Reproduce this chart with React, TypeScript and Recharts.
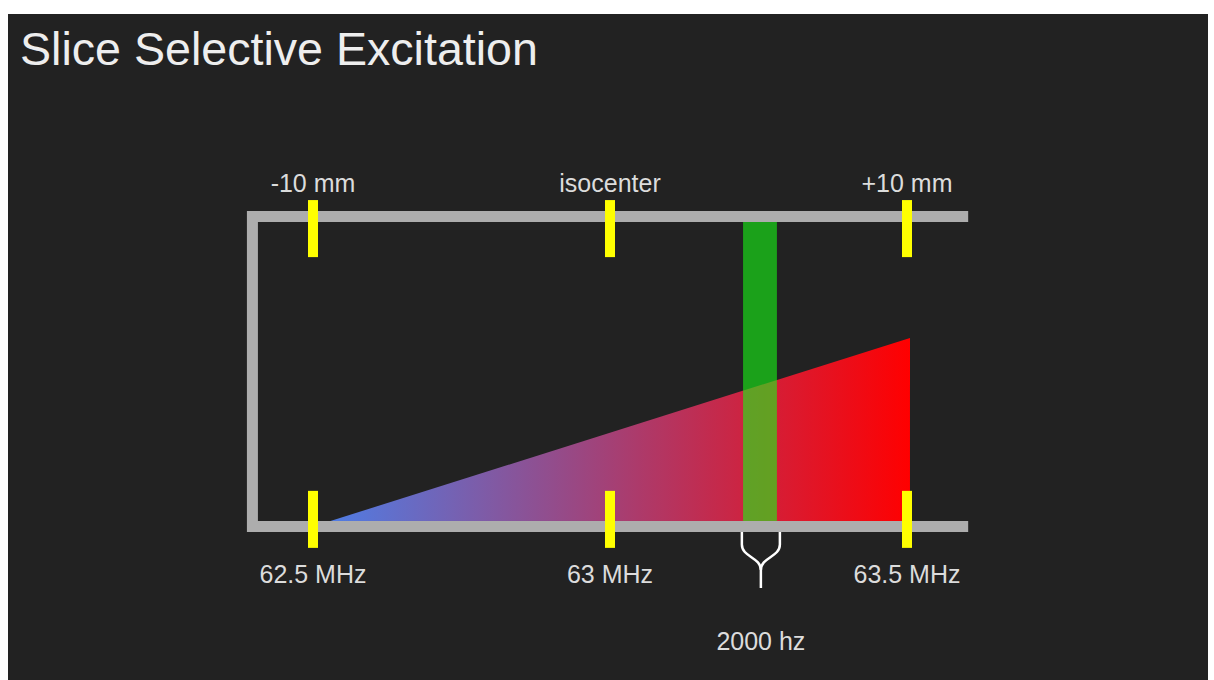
import { Area, ComposedChart, Line, ReferenceDot, XAxis, YAxis } from "recharts";

// frequency axis (bottom) and position axis (top)
const freqTicks = [62.5, 63, 63.5];
const freqLabels = ["62.5 MHz", "63 MHz", "63.5 MHz"];
const posTicks = [-10, 0, 10];
const posLabels = ["-10 mm", "isocenter", "+10 mm"];

// gradient field ramp (triangle), slice band, bracket outline
const gradientRamp = [
  { x: 62.5, y: 0 },
  { x: 63.505, y: 0.608 },
];
const sliceBand = [
  { x: 63.224, y: 1 },
  { x: 63.281, y: 1 },
];
const bracket = [
  { x: 63.603, y: 1 },
  { x: 62.398, y: 1 },
  { x: 62.398, y: 0 },
  { x: 63.603, y: 0 },
];

// yellow tick extents (top and bottom)
const tickTop = [0.869, 1.053];
const tickBottom = [-0.069, 0.115];

// bandwidth brace under the slice
const forkLeft = [
  { x: 63.222, y: -0.018 },
  { x: 63.222, y: -0.058 },
  { x: 63.254, y: -0.14 },
  { x: 63.254, y: -0.198 },
];
const forkRight = [
  { x: 63.286, y: -0.018 },
  { x: 63.286, y: -0.058 },
  { x: 63.254, y: -0.14 },
];
const bandwidthLabel = { x: 63.254, y: -0.37, text: "2000 hz" };

const FONT = "'Liberation Sans', Arial, Helvetica, sans-serif";

const tickSegments = freqTicks.flatMap((f) => [
  [
    { x: f, y: tickTop[0] },
    { x: f, y: tickTop[1] },
  ],
  [
    { x: f, y: tickBottom[0] },
    { x: f, y: tickBottom[1] },
  ],
]);

// anchor points so the top (mm) axis has a series bound to it
const posAnchors = posTicks.map((t) => ({ x: t, y: tickTop[1] }));

const makeTick =
  (labels: string[], values: number[], dy: number) =>
  ({ x, y, payload }: any) => {
    const i = values.indexOf(payload.value);
    return (
      <text
        x={x}
        y={y + dy}
        textAnchor="middle"
        fill="#dcdcdc"
        fontSize={25}
        fontFamily={FONT}
      >
        {i >= 0 ? labels[i] : payload.value}
      </text>
    );
  };

export default function App() {
  return (
    <div
      style={{
        position: "absolute",
        left: 8,
        top: 14,
        width: 1200,
        height: 666,
        background: "#222222",
        overflow: "hidden",
      }}
    >
      <div
        style={{
          position: "absolute",
          left: 12,
          top: 12,
          fontFamily: FONT,
          fontSize: 46.6,
          lineHeight: 1,
          color: "#eeeeee",
          whiteSpace: "nowrap",
        }}
      >
        Slice Selective Excitation
      </div>
      <ComposedChart
        width={1200}
        height={666}
        margin={{ top: 141.5, right: 211.9, bottom: 61.5, left: 215.9 }}
      >
        <defs>
          <linearGradient id="ramp" x1="0" y1="0" x2="1" y2="0">
            <stop offset="0%" stopColor="#4a80ea" />
            <stop offset="100%" stopColor="#ff0000" />
          </linearGradient>
        </defs>
        <XAxis
          xAxisId="freq"
          dataKey="x"
          type="number"
          domain={[62.35, 63.65]}
          ticks={freqTicks}
          interval={0}
          axisLine={false}
          tickLine={false}
          tickSize={0}
          tickMargin={0}
          height={30}
          tick={makeTick(freqLabels, freqTicks, -5.5)}
        />
        <XAxis
          xAxisId="pos"
          dataKey="x"
          orientation="top"
          type="number"
          domain={[-13, 13]}
          ticks={posTicks}
          interval={0}
          axisLine={false}
          tickLine={false}
          tickSize={0}
          tickMargin={0}
          height={30}
          tick={makeTick(posLabels, posTicks, 6.5)}
        />
        <YAxis type="number" domain={[-0.2, 1.1]} hide />

        <Area
          xAxisId="freq"
          data={gradientRamp}
          dataKey="y"
          type="linear"
          baseValue={0}
          fill="url(#ramp)"
          fillOpacity={1}
          stroke="none"
          isAnimationActive={false}
          activeDot={false}
          legendType="none"
        />
        <Area
          xAxisId="freq"
          data={sliceBand}
          dataKey="y"
          type="linear"
          baseValue={0}
          fill="rgb(24,247,21)"
          fillOpacity={0.6}
          stroke="none"
          isAnimationActive={false}
          activeDot={false}
          legendType="none"
        />
        <Line
          xAxisId="freq"
          data={bracket}
          dataKey="y"
          type="linear"
          stroke="#adadad"
          strokeWidth={11}
          strokeLinejoin="miter"
          dot={false}
          activeDot={false}
          isAnimationActive={false}
          legendType="none"
        />
        {tickSegments.map((seg, i) => (
          <Line
            key={`tick-${i}`}
            xAxisId="freq"
            data={seg}
            dataKey="y"
            type="linear"
            stroke="#ffff00"
            strokeWidth={10}
            dot={false}
            activeDot={false}
            isAnimationActive={false}
            legendType="none"
          />
        ))}
        <Line
          xAxisId="pos"
          data={posAnchors}
          dataKey="y"
          type="linear"
          stroke="none"
          dot={false}
          activeDot={false}
          isAnimationActive={false}
          legendType="none"
        />
        <Line
          xAxisId="freq"
          data={forkLeft}
          dataKey="y"
          type="bumpY"
          stroke="#ffffff"
          strokeWidth={2.5}
          dot={false}
          activeDot={false}
          isAnimationActive={false}
          legendType="none"
        />
        <Line
          xAxisId="freq"
          data={forkRight}
          dataKey="y"
          type="bumpY"
          stroke="#ffffff"
          strokeWidth={2.5}
          dot={false}
          activeDot={false}
          isAnimationActive={false}
          legendType="none"
        />
        <ReferenceDot
          xAxisId="freq"
          x={bandwidthLabel.x}
          y={bandwidthLabel.y}
          r={0}
          fill="none"
          stroke="none"
          ifOverflow="visible"
          label={{
            value: bandwidthLabel.text,
            position: "center",
            fill: "#dcdcdc",
            fontSize: 25,
            fontFamily: FONT,
          }}
        />
      </ComposedChart>
    </div>
  );
}
